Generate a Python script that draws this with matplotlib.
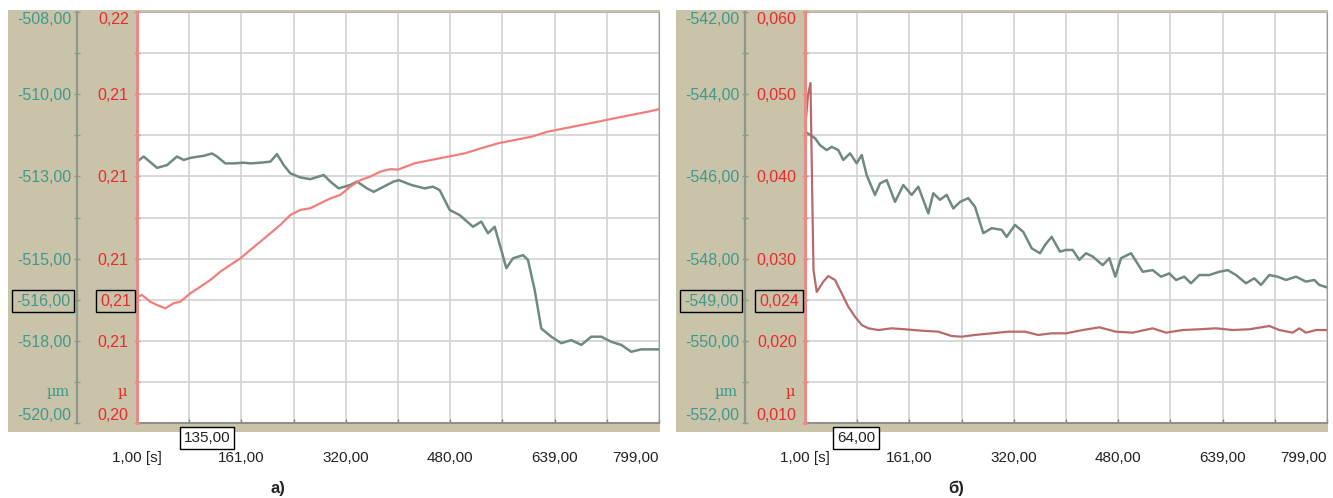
import numpy as np
import matplotlib
matplotlib.use("Agg")
import matplotlib.pyplot as plt
from matplotlib.patches import Rectangle

plt.rcParams['font.family'] = ['Liberation Sans', 'DejaVu Sans']

W, H = 1333, 498

# time axis (s)
x_ticks = [1, 160.6, 320.2, 479.8, 639.4, 799]
x_labels = ["1,00 [s]", "161,00", "320,00", "480,00", "639,00", "799,00"]

# --- panel a) ---
ta_green = [1, 11.2, 31.6, 46.9, 62.1, 72.4, 82.5, 95.3, 103.0, 115.7,
            123.3, 136.0, 148.8, 164.1, 174.2, 189.5, 204.8, 215.0, 225.3, 235.4,
            250.6, 265.9, 286.4, 296.5, 309.3, 327.1, 337.3, 352.6, 362.8, 378.1,
            393.4, 401.5, 420.3, 440.8, 453.5, 463.7, 479.0, 494.3, 514.6, 527.3,
            537.6, 547.8, 557.9, 565.6, 575.8, 591.1, 598.7, 609.0, 619.1, 634.3,
            649.6, 664.9, 680.2, 695.5, 710.8, 726.1, 741.4, 756.6, 771.9, 799]
a_green = [-512.37, -512.22, -512.55, -512.47, -512.22, -512.32, -512.26, -512.22, -512.20, -512.13,
           -512.22, -512.42, -512.42, -512.40, -512.42, -512.40, -512.37, -512.15, -512.47, -512.71,
           -512.83, -512.88, -512.76, -512.95, -513.15, -513.05, -512.95, -513.15, -513.25, -513.10,
           -512.95, -512.91, -513.05, -513.15, -513.10, -513.20, -513.78, -513.93, -514.27, -514.12,
           -514.46, -514.27, -514.95, -515.48, -515.19, -515.10, -515.24, -516.12, -517.24, -517.48,
           -517.67, -517.58, -517.72, -517.48, -517.48, -517.63, -517.72, -517.92, -517.85, -517.85]

ta_red = [1, 8.6, 21.3, 31.6, 44.3, 57.1, 67.2, 82.5, 97.8, 113.1,
          128.3, 143.6, 158.9, 174.2, 189.5, 204.8, 220.1, 235.4, 250.6, 265.9,
          281.2, 296.5, 311.8, 327.1, 342.4, 357.6, 372.9, 388.2, 400.0, 425.5,
          450.9, 476.4, 501.9, 527.3, 552.9, 578.4, 603.8, 629.3, 654.8, 680.2,
          705.7, 731.3, 756.6, 782.2, 799]
a_red = [0.20613, 0.20623, 0.20590, 0.20574, 0.20558, 0.20583, 0.20590, 0.20631, 0.20663, 0.20696,
         0.20736, 0.20769, 0.20801, 0.20842, 0.20882, 0.20923, 0.20964, 0.21012, 0.21037, 0.21045,
         0.21069, 0.21093, 0.21110, 0.21150, 0.21182, 0.21199, 0.21223, 0.21235, 0.21233, 0.21264,
         0.21280, 0.21296, 0.21312, 0.21337, 0.21361, 0.21377, 0.21393, 0.21418, 0.21434, 0.21450,
         0.21466, 0.21483, 0.21499, 0.21515, 0.21527]

a_green_labels = ["-508,00", "-510,00", "-513,00", "-515,00", "-518,00", "-520,00"]
a_red_labels = ["0,22", "0,21", "0,21", "0,21", "0,21", "0,20"]

# --- panel б) ---
tb_green = [1, 16.3, 23.9, 34.2, 41.8, 51.9, 59.5, 69.8, 80.0, 87.7,
            95.3, 108.0, 115.7, 125.9, 138.6, 151.3, 164.1, 174.2, 189.5, 197.1,
            207.4, 217.6, 227.7, 238.0, 250.6, 260.9, 273.6, 286.4, 301.7, 309.3,
            322.0, 334.7, 347.6, 360.2, 367.9, 378.1, 390.8, 400.0, 410.2, 420.3,
            430.6, 440.8, 456.1, 466.2, 475.4, 484.1, 499.4, 517.2, 532.5, 545.2,
            557.9, 568.2, 580.8, 591.1, 603.8, 619.1, 634.4, 647.2, 659.9, 675.2,
            687.8, 698.1, 710.8, 723.6, 736.3, 751.6, 766.9, 779.6, 787.2, 794.9, 799]
b_green = [-544.91, -545.07, -545.24, -545.36, -545.28, -545.36, -545.60, -545.44, -545.68, -545.48,
           -545.97, -546.45, -546.17, -546.09, -546.62, -546.21, -546.45, -546.25, -546.90, -546.41,
           -546.57, -546.45, -546.78, -546.62, -546.53, -546.74, -547.38, -547.26, -547.30, -547.47,
           -547.18, -547.35, -547.75, -547.87, -547.67, -547.47, -547.83, -547.79, -547.79, -548.03,
           -547.87, -547.95, -548.16, -547.99, -548.44, -547.99, -547.87, -548.32, -548.28, -548.44,
           -548.36, -548.52, -548.44, -548.60, -548.40, -548.40, -548.32, -548.28, -548.40, -548.60,
           -548.48, -548.64, -548.40, -548.44, -548.52, -548.44, -548.56, -548.52, -548.64, -548.68, -548.70]

tb_red = [1, 5.6, 9.4, 11.7, 14.0, 18.9, 29.0, 36.6, 46.9, 57.1,
          67.2, 77.4, 87.7, 97.8, 113.1, 133.5, 153.9, 179.4, 204.8, 225.3,
          240.5, 260.9, 286.4, 311.8, 337.3, 357.6, 378.1, 400.0, 425.5, 450.9,
          476.4, 501.9, 532.5, 552.9, 578.4, 603.8, 629.3, 654.8, 680.2, 710.8,
          726.1, 746.6, 756.6, 766.9, 782.2, 799]
b_red = [0.04564, 0.04990, 0.05136, 0.03956, 0.02861, 0.02594, 0.02719, 0.02788, 0.02740, 0.02578,
         0.02415, 0.02293, 0.02192, 0.02152, 0.02131, 0.02152, 0.02140, 0.02123, 0.02111, 0.02058,
         0.02050, 0.02071, 0.02091, 0.02111, 0.02111, 0.02071, 0.02091, 0.02091, 0.02131, 0.02164,
         0.02111, 0.02099, 0.02152, 0.02099, 0.02131, 0.02140, 0.02152, 0.02131, 0.02140, 0.02180,
         0.02131, 0.02099, 0.02152, 0.02099, 0.02131, 0.02131]

b_green_labels = ["-542,00", "-544,00", "-546,00", "-548,00", "-550,00", "-552,00"]
b_red_labels = ["0,060", "0,050", "0,040", "0,030", "0,020", "0,010"]

# colours
TAN = '#c9c3a9'
GREEN_TXT = '#3f9a8c'
GREEN_LINE = '#6f8a80'
GREEN_AXIS = '#8c998a'
RED_TXT = '#ec2a2e'
RED_AXIS = '#e98a86'
GRID = '#d2d2d2'


def px_rect(x0, y0, x1, y1):
    return [x0 / W, 1 - y1 / H, (x1 - x0) / W, (y1 - y0) / H]


def fx(x):
    return x / W


def fy(y):
    return 1 - y / H


fig = plt.figure(figsize=(W / 100, H / 100), dpi=100)


def keep_inside(labels):
    # end labels are pushed inward so they stay inside the axis range
    labels[0].set_va('top')
    labels[-1].set_va('bottom')


def panel(left, t_g, g, t_r, r, g_lim, r_lim, g_labels, r_labels, red_line,
          cur_g, cur_r, cur_t, cur_t_x, title, title_x):
    plot_left = left + 129
    plot_right = plot_left + 522

    # tan frame behind the axes
    fig.patches.append(Rectangle((fx(left), fy(432)), (plot_right + 1 - left) / W, (432 - 10) / H,
                                 transform=fig.transFigure, fc=TAN, ec='none', zorder=-1))

    ax = fig.add_axes(px_rect(plot_left, 12, plot_right, 423))
    ax.set_facecolor('white')
    ax.plot(t_g, g, color=GREEN_LINE, lw=1.8)
    ax.set_xlim(1, 799)
    ax.set_ylim(*g_lim)

    ax.set_xticks(x_ticks)
    ax.set_xticklabels(x_labels)
    ax.set_xticks(np.linspace(1, 799, 11), minor=True)
    ax.set_yticks(np.linspace(g_lim[1], g_lim[0], 6))
    ax.set_yticklabels(g_labels)
    ax.set_yticks(np.linspace(g_lim[0], g_lim[1], 11), minor=True)
    ax.grid(True, which='both', color=GRID, lw=1.2)

    ax.spines['left'].set_position(('outward', 60 * 0.72))
    ax.spines['left'].set_color(GREEN_AXIS)
    ax.spines['left'].set_linewidth(1.6)
    ax.spines['bottom'].set_color('#8a8f84')
    ax.spines['bottom'].set_linewidth(1.4)
    ax.spines['top'].set_color('#b5b5b5')
    ax.spines['right'].set_color('#9a9a9a')

    ax2 = ax.twinx()
    ax2.plot(t_r, r, color=red_line, lw=1.6)
    ax2.set_ylim(*r_lim)
    ax2.yaxis.tick_left()
    ax2.set_yticks(np.linspace(r_lim[1], r_lim[0], 6))
    ax2.set_yticklabels(r_labels)
    ax2.set_yticks(np.linspace(r_lim[0], r_lim[1], 11), minor=True)
    for s in ['top', 'bottom', 'right']:
        ax2.spines[s].set_visible(False)
    ax2.spines['left'].set_visible(True)
    ax2.spines['left'].set_color(RED_AXIS)
    ax2.spines['left'].set_linewidth(2.2)

    ax.tick_params(axis='y', which='both', direction='inout', length=4, width=1,
                   color=GREEN_AXIS, labelcolor=GREEN_TXT, labelsize=11.5, pad=2)
    ax.tick_params(axis='x', which='both', direction='in', length=3, width=1,
                   color='#7f8a7c', labelsize=11, pad=20, labelcolor='#222222')
    ax2.tick_params(axis='y', which='both', direction='inout', length=4, width=1,
                    color=RED_AXIS, labelcolor=RED_TXT, labelsize=11.5, pad=4)
    keep_inside(ax.get_yticklabels())
    keep_inside(ax2.get_yticklabels())
    ax.get_xticklabels()[-1].set_ha('right')

    # units
    fig.text(fx(left + 62), fy(392), "µm", ha='right', va='center', color=GREEN_TXT,
             family='DejaVu Serif', size=10.5)
    fig.text(fx(left + 119), fy(392), "µ", ha='right', va='center', color=RED_TXT,
             family='DejaVu Serif', size=10.5)

    # cursor read-outs
    box = dict(boxstyle='square,pad=0.25', fc='none', ec='black', lw=1)
    fig.text(fx(left + 35), fy(301), cur_g, ha='center', va='center', color=GREEN_TXT,
             size=11.5, bbox=box)
    fig.text(fx(plot_left - 6), fy(301), cur_r, ha='right', va='center', color=RED_TXT,
             size=11.5, bbox=box)
    fig.text(fx(cur_t_x), fy(438), cur_t, ha='center', va='center', color='#222222',
             size=11, bbox=dict(boxstyle='square,pad=0.25', fc='white', ec='black', lw=1))

    fig.text(fx(title_x), fy(488), title, ha='center', va='center', size=12,
             weight='bold', color='#222222')


panel(8, ta_green, a_green, ta_red, a_red, (-520, -508), (0.20, 0.22),
      a_green_labels, a_red_labels, '#f07f7b',
      "-516,00", "0,21", "135,00", 207, "a)", 278)
panel(676, tb_green, b_green, tb_red, b_red, (-552, -542), (0.010, 0.060),
      b_green_labels, b_red_labels, '#b86a6a',
      "-549,00", "0,024", "64,00", 856, "б)", 956)

fig.savefig("out.png", dpi=100)
